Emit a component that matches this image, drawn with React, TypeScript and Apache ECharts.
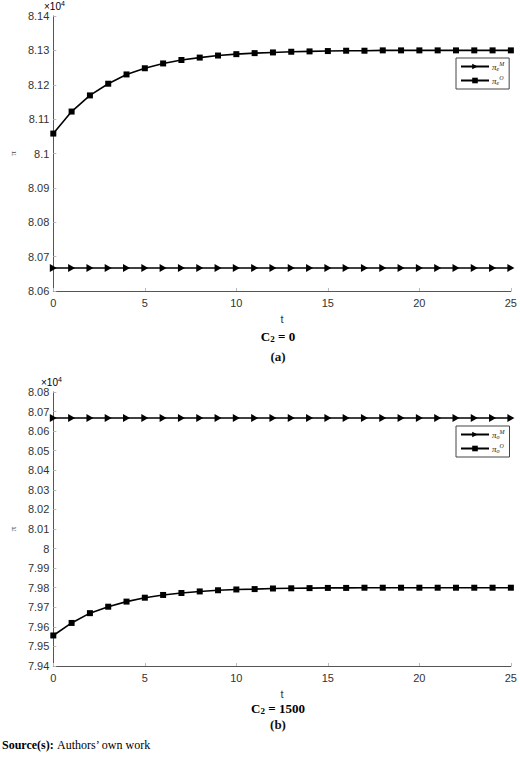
import { useEffect, useRef } from "react";
import * as echarts from "echarts";

// time steps
const t = [0, 1, 2, 3, 4, 5, 6, 7, 8, 9, 10, 11, 12, 13, 14, 15, 16, 17, 18, 19, 20, 21, 22, 23, 24, 25];

// panel (a), C2 = 0, values in units of 10^4
const piM_a = [
    8.0667, 8.0667, 8.0667, 8.0667, 8.0667, 8.0667, 8.0667, 8.0667, 8.0667, 8.0667, 8.0667, 8.0667, 8.0667,
    8.0667, 8.0667, 8.0667, 8.0667, 8.0667, 8.0667, 8.0667, 8.0667, 8.0667, 8.0667, 8.0667, 8.0667, 8.0667,
];
const piO_a = [
    8.1058, 8.1122, 8.1169, 8.1203, 8.123, 8.1248, 8.1262, 8.1272, 8.1279, 8.1285, 8.1289, 8.1292, 8.1294,
    8.1296, 8.1297, 8.1298, 8.1299, 8.1299, 8.13, 8.13, 8.13, 8.13, 8.13, 8.13, 8.13, 8.13,
];

// panel (b), C2 = 1500
const piM_b = [
    8.0667, 8.0667, 8.0667, 8.0667, 8.0667, 8.0667, 8.0667, 8.0667, 8.0667, 8.0667, 8.0667, 8.0667, 8.0667,
    8.0667, 8.0667, 8.0667, 8.0667, 8.0667, 8.0667, 8.0667, 8.0667, 8.0667, 8.0667, 8.0667, 8.0667, 8.0667,
];
const piO_b = [
    7.9556, 7.962, 7.967, 7.9703, 7.9729, 7.9749, 7.9763, 7.9773, 7.9781, 7.9787, 7.9791, 7.9793, 7.9796,
    7.9797, 7.9798, 7.9799, 7.9799, 7.98, 7.98, 7.98, 7.98, 7.98, 7.98, 7.98, 7.98, 7.98,
];

const SANS = "Liberation Sans, Arial, sans-serif";
const SERIF = "Liberation Serif, Times New Roman, serif";
const TRI = "path://M0,0L10,5L0,10Z";

// legend label rich text: pi, subscript, superscript
const legendRich = {
    p: { fontFamily: SERIF, fontStyle: "italic", fontSize: 9, color: "#222" },
    s: { fontFamily: SERIF, fontStyle: "italic", fontSize: 6, color: "#222", verticalAlign: "bottom", lineHeight: 11 },
    u: { fontFamily: SERIF, fontStyle: "italic", fontSize: 6, color: "#222", verticalAlign: "top", lineHeight: 11 },
};
const legendLabel = (name: string) => {
    const sub = name.includes("(b)") ? "o" : "e";
    const sup = name.startsWith("πM") ? "M" : "O";
    return `{p|π}{s|${sub}}{u|${sup}}`;
};

const xAxisBase = (gridIndex: number) => ({
    type: "value",
    gridIndex,
    min: 0,
    max: 25,
    interval: 5,
    name: "t",
    nameLocation: "middle",
    nameGap: 22,
    nameTextStyle: { fontFamily: SANS, fontSize: 11, color: "#333" },
    axisLine: { lineStyle: { color: "#555", width: 1 } },
    axisTick: { inside: true, length: 3, lineStyle: { color: "#bbb" } },
    axisLabel: { fontFamily: SANS, fontSize: 11, color: "#333", margin: 6 },
    splitLine: { show: false },
});

const yAxisBase = (gridIndex: number, min: number, max: number, nameGap: number) => ({
    type: "value",
    gridIndex,
    min,
    max,
    interval: 0.01,
    name: "π",
    nameLocation: "middle",
    nameRotate: 90,
    nameGap,
    nameTextStyle: { fontFamily: SERIF, fontSize: 9, color: "#444" },
    axisLine: { show: true, lineStyle: { color: "#555", width: 1 } },
    axisTick: { show: true, inside: true, length: 3, lineStyle: { color: "#bbb" } },
    axisLabel: { fontFamily: SANS, fontSize: 11, color: "#333", margin: 4 },
    splitLine: { show: false },
});

const lineSeries = (name: string, data: number[], idx: number, symbol: string, size: any) => ({
    name,
    type: "line",
    xAxisIndex: idx,
    yAxisIndex: idx,
    data: t.map((x, i) => [x, data[i]]),
    symbol,
    symbolSize: size,
    showAllSymbol: true,
    clip: false,
    lineStyle: { color: "#000", width: 1.6 },
    itemStyle: { color: "#000" },
});

const legendBase = (names: string[], top: number) => ({
    data: names,
    orient: "vertical",
    left: 456,
    top,
    backgroundColor: "#fff",
    borderColor: "#444",
    borderWidth: 1,
    padding: [3, 5, 3, 4],
    itemGap: 3,
    itemWidth: 28,
    itemHeight: 7,
    selectedMode: false,
    formatter: legendLabel,
    textStyle: { rich: legendRich, padding: [0, 0, 0, -2] },
});

const captionRich = {
    b: { fontFamily: SERIF, fontWeight: "bold", fontSize: 13, color: "#111" },
    s: { fontFamily: SERIF, fontWeight: "bold", fontSize: 9, color: "#111", verticalAlign: "bottom", lineHeight: 15 },
};

const expRich = {
    a: { fontFamily: SANS, fontSize: 10, color: "#333", verticalAlign: "bottom", lineHeight: 11 },
    b: { fontFamily: SANS, fontSize: 7, color: "#333", verticalAlign: "top", lineHeight: 11 },
};

const App = () => {
    const chartRef = useRef<HTMLDivElement>(null);

    useEffect(() => {
        if (chartRef.current) {
            const chart = echarts.init(chartRef.current, undefined, { renderer: "svg" });

            const options = {
                animation: false,
                backgroundColor: "#fff",
                grid: [
                    { left: 42, top: 16, width: 470, height: 275 },
                    { left: 39, top: 392, width: 473, height: 274 },
                ],
                xAxis: [xAxisBase(0), xAxisBase(1)],
                yAxis: [yAxisBase(0, 8.06, 8.14, 32), yAxisBase(1, 7.94, 8.08, 29)],
                legend: [
                    legendBase(["πM (a)", "πO (a)"], 58),
                    legendBase(["πM (b)", "πO (b)"], 426),
                ],
                series: [
                    lineSeries("πM (a)", piM_a, 0, TRI, [7, 8]),
                    lineSeries("πO (a)", piO_a, 0, "rect", 6),
                    lineSeries("πM (b)", piM_b, 1, TRI, [7, 8]),
                    lineSeries("πO (b)", piO_b, 1, "rect", 6),
                ],
                graphic: [
                    { type: "text", left: 44, top: 0, style: { text: "{a|×10}{b|4}", rich: expRich } },
                    { type: "text", left: 41, top: 376, style: { text: "{a|×10}{b|4}", rich: expRich } },
                    {
                        type: "text",
                        x: 278,
                        y: 336,
                        style: { text: "{b|C}{s|2}{b| = 0}", rich: captionRich, align: "center", verticalAlign: "middle" },
                    },
                    {
                        type: "text",
                        x: 278,
                        y: 356,
                        style: { text: "(a)", fontFamily: SERIF, fontWeight: "bold", fontSize: 13, fill: "#111", align: "center", verticalAlign: "middle" },
                    },
                    {
                        type: "text",
                        x: 278,
                        y: 708,
                        style: { text: "{b|C}{s|2}{b| = 1500}", rich: captionRich, align: "center", verticalAlign: "middle" },
                    },
                    {
                        type: "text",
                        x: 278,
                        y: 724,
                        style: { text: "(b)", fontFamily: SERIF, fontWeight: "bold", fontSize: 13, fill: "#111", align: "center", verticalAlign: "middle" },
                    },
                    {
                        type: "text",
                        x: 2,
                        y: 745,
                        style: {
                            text: "{b|Source(s):} {n|Authors’ own work}",
                            verticalAlign: "middle",
                            rich: {
                                b: { fontFamily: SERIF, fontWeight: "bold", fontSize: 12, color: "#111" },
                                n: { fontFamily: SERIF, fontSize: 12, color: "#111" },
                            },
                        },
                    },
                ],
            };

            chart.setOption(options);

            return () => {
                chart.dispose();
            };
        }
    }, []);

    return <div ref={chartRef} style={{ position: "absolute", left: 0, top: 0, width: "520px", height: "762px" }} />;
};

export default App;
